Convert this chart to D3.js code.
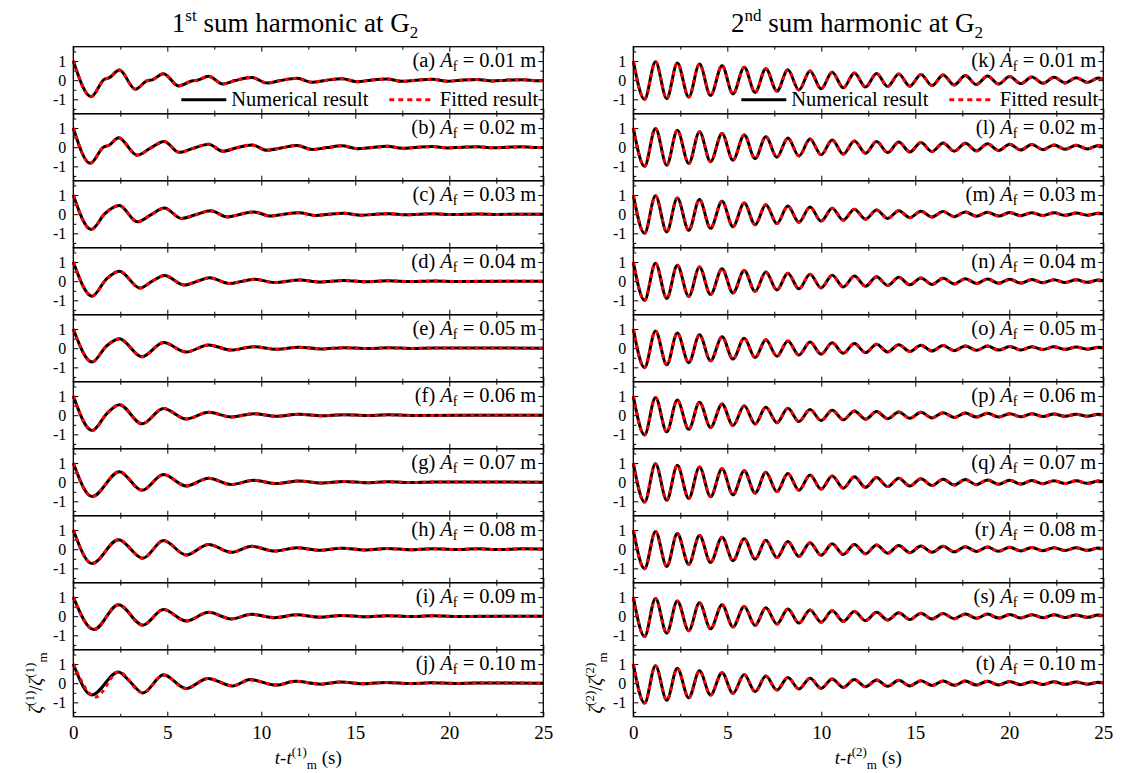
<!DOCTYPE html>
<html>
<head>
<meta charset="utf-8">
<script src="https://cdn.jsdelivr.net/npm/d3@7"></script>
<style>
body{margin:0;background:#fff}
svg text{font-family:"Liberation Serif","Times New Roman",serif;fill:#000}
</style>
</head>
<body>
<script>
// panel letters and forcing amplitudes
const lettersLeft = ['a','b','c','d','e','f','g','h','i','j']
const lettersRight = ['k','l','m','n','o','p','q','r','s','t']
const ampLabels = ['0.01','0.02','0.03','0.04','0.05','0.06','0.07','0.08','0.09','0.10']

const xMajor = [0,5,10,15,20,25]
const xMinor = [2.5,7.5,12.5,17.5,22.5]
const yMajor = [-1,0,1]
const yMinor = [-1.5,-0.5,0.5,1.5]

// 1st sum harmonic: key points [t, value]
const s1a = [[0,1.02],[0.95,-0.86],[1.65,0.05],[1.9,0.12],[2.45,0.53],[3.3,-0.47],[3.9,-0.04],[4.2,0.02],[4.8,0.34],[5.6,-0.3],[6.3,-0.04],[6.6,0],[7.2,0.2],[7.95,-0.2],[8.6,-0.02],[9.5,0.14],[10.3,-0.15],[11.0,-0.02],[11.9,0.1],[12.7,-0.11],[13.4,-0.01],[14.3,0.08],[15.1,-0.08],[15.8,0],[16.7,0.06],[17.5,-0.06],[18.2,0],[19.1,0.05],[19.9,-0.05],[20.6,0],[21.5,0.04],[22.3,-0.04],[23,0],[23.9,0.03],[24.7,-0.03],[25,-0.01]]
const s1b = [[0,1.0],[0.9,-0.84],[1.6,0.0],[1.9,0.1],[2.4,0.5],[3.4,-0.42],[4.1,-0.05],[4.83,0.3],[5.64,-0.27],[6.4,-0.05],[7.2,0.16],[7.96,-0.21],[8.7,-0.03],[9.5,0.12],[10.3,-0.16],[11.1,-0.03],[11.9,0.09],[12.7,-0.12],[13.5,-0.02],[14.3,0.07],[15.1,-0.08],[15.9,-0.01],[16.7,0.05],[17.5,-0.06],[18.3,0],[19.1,0.04],[19.9,-0.04],[20.7,0],[21.5,0.03],[22.3,-0.03],[23.1,0],[23.9,0.02],[24.7,-0.02],[25,-0.01]]
const s1c = [[0,1.0],[0.95,-0.8],[1.7,0.05],[2.45,0.45],[3.4,-0.4],[4.1,-0.05],[4.85,0.32],[5.75,-0.22],[6.5,-0.03],[7.3,0.18],[8.2,-0.14],[8.9,0],[9.6,0.12],[10.5,-0.1],[11.2,0],[12.0,0.08],[12.9,-0.07],[13.6,0],[14.4,0.05],[15.3,-0.05],[16.1,0],[16.8,0.03],[17.7,-0.03],[19.2,0.02],[20.1,-0.02],[21.6,0.01],[22.5,-0.01],[25,0]]
const s1d = [[0,1.0],[1.0,-0.78],[1.75,0.1],[2.45,0.52],[3.55,-0.36],[4.2,0.0],[4.85,0.3],[5.9,-0.2],[6.6,0.0],[7.25,0.18],[8.3,-0.12],[9.0,0.0],[9.65,0.1],[10.7,-0.07],[12.05,0.06],[13.1,-0.04],[14.4,0.04],[15.5,-0.03],[16.8,0.02],[17.9,-0.02],[19.2,0.01],[20.3,-0.01],[25,0]]
const s1e = [[0,1.0],[1.0,-0.72],[1.75,0.1],[2.45,0.5],[3.65,-0.45],[4.8,0.3],[6.0,-0.2],[7.2,0.17],[8.4,-0.1],[9.6,0.08],[10.8,-0.06],[12.0,0.05],[13.2,-0.04],[14.4,0.03],[15.6,-0.02],[16.8,0.02],[18,-0.01],[19.2,0.01],[25,0]]
const s1f = [[0,1.0],[1.0,-0.8],[1.8,0.1],[2.45,0.55],[3.65,-0.45],[4.8,0.35],[6.0,-0.2],[7.2,0.15],[8.4,-0.09],[9.6,0.08],[10.8,-0.05],[12.0,0.05],[13.2,-0.03],[14.4,0.03],[15.6,-0.02],[16.8,0.02],[18,-0.01],[25,0]]
const s1g = [[0,1.0],[1.0,-0.75],[2.45,0.55],[3.65,-0.42],[4.8,0.4],[6.0,-0.2],[7.2,0.2],[8.4,-0.12],[9.6,0.1],[10.8,-0.07],[12.0,0.06],[13.2,-0.04],[14.4,0.04],[15.6,-0.03],[16.8,0.02],[18,-0.02],[19.2,0.01],[25,0]]
const s1h = [[0,1.0],[1.0,-0.75],[2.4,0.5],[3.7,-0.47],[4.8,0.45],[6.0,-0.3],[7.2,0.25],[8.4,-0.16],[9.5,0.15],[10.7,-0.1],[11.9,0.08],[13.1,-0.06],[14.3,0.05],[15.5,-0.04],[16.7,0.04],[17.9,-0.03],[19.1,0.03],[20.3,-0.02],[21.5,0.02],[22.7,-0.02],[23.9,0.02],[25,0.01]]
const s1i = [[0,1.0],[1.1,-0.7],[2.4,0.6],[3.7,-0.47],[4.8,0.35],[6.0,-0.25],[7.2,0.2],[8.4,-0.14],[9.5,0.1],[10.7,-0.08],[11.9,0.07],[13.1,-0.05],[14.3,0.04],[15.5,-0.03],[16.7,0.03],[17.9,-0.02],[19.1,0.02],[20.3,-0.01],[25,0]]
const s1j = [[0,1.0],[0.98,-0.62],[2.4,0.59],[3.0,0.1],[3.7,-0.51],[4.8,0.44],[6.0,-0.28],[7.15,0.25],[8.47,-0.14],[9.4,0.19],[10.8,-0.1],[11.8,0.1],[13.2,-0.05],[14.2,0.06],[15.5,-0.03],[16.6,0.04],[18,-0.02],[19,0.02],[20.4,-0.01],[21.4,0.01],[25,0]]
const s1jFit = [[0,1.0],[1.2,-0.72],[2.4,0.59],[3.7,-0.5],[4.8,0.42],[6.0,-0.28],[7.15,0.25],[8.47,-0.14],[9.4,0.17],[10.8,-0.1],[11.8,0.1],[13.2,-0.05],[14.2,0.06],[15.5,-0.03],[16.6,0.04],[18,-0.02],[19,0.02],[20.4,-0.01],[21.4,0.01],[25,0]]

// 2nd sum harmonic: times of the extrema, then the value at each one per panel
const s2Times = [0,0.6,1.18,1.78,2.34,2.95,3.52,4.11,4.72,5.3,5.9,6.48,7.05,7.64,8.22,8.81,9.4,9.99,10.58,11.17,11.76,12.35,12.94,13.53,14.12,14.71,15.3,15.89,16.48,17.07,17.66,18.25,18.84,19.43,20.02,20.61,21.2,21.79,22.38,22.97,23.56,24.15,24.74,25]
const s2k = [1.00,-1.00,0.96,-0.96,0.90,-0.88,0.84,-0.80,0.76,-0.72,0.68,-0.64,0.60,-0.57,0.54,-0.51,0.48,-0.45,0.42,-0.40,0.38,-0.36,0.35,-0.33,0.32,-0.31,0.30,-0.28,0.27,-0.25,0.24,-0.23,0.22,-0.20,0.19,-0.18,0.17,-0.16,0.15,-0.14,0.13,-0.12,0.11,0.05]
const s2l = [1.00,-1.00,0.98,-0.94,0.89,-0.85,0.81,-0.76,0.72,-0.68,0.64,-0.60,0.55,-0.52,0.48,-0.46,0.43,-0.40,0.38,-0.36,0.33,-0.32,0.30,-0.28,0.27,-0.25,0.24,-0.23,0.22,-0.21,0.20,-0.19,0.18,-0.17,0.16,-0.15,0.14,-0.13,0.12,-0.11,0.10,-0.09,0.09,0.04]
const s2m = [1.00,-1.00,0.96,-0.93,0.84,-0.84,0.77,-0.74,0.68,-0.65,0.58,-0.55,0.50,-0.49,0.43,-0.42,0.37,-0.36,0.31,-0.31,0.26,-0.26,0.22,-0.22,0.18,-0.18,0.16,-0.15,0.14,-0.13,0.12,-0.11,0.10,-0.10,0.09,-0.08,0.08,-0.07,0.07,-0.06,0.06,-0.05,0.05,0.02]
const s2n = [1.00,-1.00,0.94,-0.90,0.83,-0.80,0.74,-0.70,0.65,-0.61,0.56,-0.53,0.48,-0.46,0.42,-0.40,0.36,-0.35,0.31,-0.30,0.27,-0.26,0.23,-0.22,0.20,-0.19,0.17,-0.17,0.15,-0.14,0.13,-0.12,0.12,-0.11,0.10,-0.10,0.09,-0.08,0.08,-0.07,0.07,-0.06,0.06,0.03]
const s2o = [1.00,-1.02,0.90,-0.87,0.79,-0.76,0.70,-0.66,0.60,-0.57,0.52,-0.49,0.44,-0.42,0.38,-0.36,0.32,-0.31,0.28,-0.26,0.24,-0.23,0.21,-0.20,0.18,-0.17,0.16,-0.15,0.14,-0.13,0.12,-0.11,0.11,-0.10,0.09,-0.09,0.08,-0.07,0.07,-0.06,0.06,-0.05,0.05,0.02]
const s2p = [1.00,-1.03,0.92,-0.87,0.79,-0.74,0.68,-0.64,0.58,-0.54,0.49,-0.46,0.42,-0.39,0.36,-0.33,0.30,-0.28,0.26,-0.24,0.22,-0.21,0.19,-0.18,0.17,-0.16,0.15,-0.14,0.13,-0.12,0.11,-0.10,0.10,-0.09,0.08,-0.08,0.07,-0.07,0.06,-0.06,0.05,-0.05,0.05,0.02]
const s2q = [1.00,-1.04,0.96,-0.94,0.88,-0.85,0.80,-0.76,0.70,-0.66,0.60,-0.57,0.52,-0.49,0.45,-0.42,0.38,-0.36,0.33,-0.31,0.28,-0.27,0.24,-0.23,0.21,-0.20,0.18,-0.17,0.16,-0.15,0.14,-0.13,0.12,-0.11,0.10,-0.10,0.09,-0.08,0.08,-0.07,0.07,-0.06,0.06,0.03]
const s2r = [1.00,-1.02,0.92,-0.90,0.82,-0.79,0.72,-0.69,0.63,-0.60,0.55,-0.52,0.47,-0.44,0.40,-0.38,0.34,-0.32,0.29,-0.28,0.25,-0.24,0.22,-0.21,0.19,-0.18,0.17,-0.16,0.15,-0.14,0.13,-0.12,0.11,-0.11,0.10,-0.09,0.09,-0.08,0.08,-0.07,0.07,-0.06,0.06,0.03]
const s2s = [1.00,-1.06,0.93,-0.89,0.80,-0.76,0.70,-0.66,0.60,-0.56,0.51,-0.48,0.44,-0.41,0.38,-0.36,0.33,-0.31,0.28,-0.27,0.24,-0.23,0.21,-0.20,0.18,-0.17,0.16,-0.15,0.14,-0.13,0.12,-0.11,0.11,-0.10,0.09,-0.09,0.08,-0.08,0.07,-0.07,0.06,-0.06,0.06,0.03]
const s2t = [1.00,-1.04,0.91,-0.89,0.78,-0.76,0.65,-0.62,0.55,-0.53,0.45,-0.44,0.37,-0.36,0.30,-0.30,0.26,-0.27,0.22,-0.22,0.19,-0.18,0.17,-0.16,0.15,-0.14,0.13,-0.12,0.12,-0.11,0.11,-0.10,0.10,-0.09,0.09,-0.08,0.08,-0.07,0.07,-0.06,0.06,-0.05,0.05,0.02]

const left = [s1a,s1b,s1c,s1d,s1e,s1f,s1g,s1h,s1i,s1j]
const leftFit = [s1a,s1b,s1c,s1d,s1e,s1f,s1g,s1h,s1i,s1jFit]
const right = [s2k,s2l,s2m,s2n,s2o,s2p,s2q,s2r,s2s,s2t].map(v => s2Times.map((t,k) => [t, v[k]]))

const width = 1123
const height = 773
const colX = [73.3, 633.3]
const plotW = 470
const top0 = 46.7
const panelH = 67
const font = '"Liberation Serif","Times New Roman",serif'

const svg = d3.select('body').append('svg')
  .attr('width', width)
  .attr('height', height)

const x = d3.scaleLinear().domain([0,25]).range([0,plotW])
const y = d3.scaleLinear().domain([-1.75,1.75]).range([panelH,0])

const line = d3.line()
  .x(d => x(d[0]))
  .y(d => y(d[1]))
  .curve(d3.curveMonotoneX)

function axisStyle(g, size) {
  g.select('.domain').remove()
  g.attr('font-family', font).attr('font-size', size || 19)
  g.selectAll('line').attr('stroke', '#000').attr('stroke-width', 1)
}

function drawPanel(col, i, num, fit, letter) {
  const g = svg.append('g')
    .attr('transform', 'translate(' + colX[col] + ',' + (top0 + i*panelH) + ')')

  const last = i == 9
  g.append('g').attr('transform', 'translate(0,' + panelH + ')')
    .call(d3.axisBottom(x).tickValues(xMajor).tickSize(-5).tickSizeOuter(0).tickPadding(9)
      .tickFormat(last ? d => d : ''))
    .call(axisStyle)
  g.append('g').attr('transform', 'translate(0,' + panelH + ')')
    .call(d3.axisBottom(x).tickValues(xMinor).tickSize(-3).tickSizeOuter(0).tickFormat(''))
    .call(axisStyle)
  g.append('g')
    .call(d3.axisTop(x).tickValues(xMajor).tickSize(-5).tickSizeOuter(0).tickFormat(''))
    .call(axisStyle)
  g.append('g')
    .call(d3.axisTop(x).tickValues(xMinor).tickSize(-3).tickSizeOuter(0).tickFormat(''))
    .call(axisStyle)
  g.append('g')
    .call(d3.axisLeft(y).tickValues(yMajor).tickSize(-5).tickSizeOuter(0).tickPadding(7)
      .tickFormat(d => String(d)))
    .call(axisStyle, 16)
  g.append('g')
    .call(d3.axisLeft(y).tickValues(yMinor).tickSize(-3).tickSizeOuter(0).tickFormat(''))
    .call(axisStyle)
  g.append('g').attr('transform', 'translate(' + plotW + ',0)')
    .call(d3.axisRight(y).tickValues(yMajor).tickSize(-5).tickSizeOuter(0).tickFormat(''))
    .call(axisStyle)
  g.append('g').attr('transform', 'translate(' + plotW + ',0)')
    .call(d3.axisRight(y).tickValues(yMinor).tickSize(-3).tickSizeOuter(0).tickFormat(''))
    .call(axisStyle)

  g.append('path').datum(num)
    .attr('d', line)
    .attr('fill', 'none')
    .attr('stroke', '#000')
    .attr('stroke-width', 3)
  g.append('path').datum(fit)
    .attr('d', line)
    .attr('fill', 'none')
    .attr('stroke', '#ff0000')
    .attr('stroke-width', 3)
    .attr('stroke-dasharray', '4,4')

  g.append('rect')
    .attr('width', plotW).attr('height', panelH)
    .attr('fill', 'none').attr('stroke', '#000').attr('stroke-width', 1.3)

  const lab = g.append('text')
    .attr('x', plotW - 7).attr('y', 20)
    .attr('text-anchor', 'end')
    .attr('font-size', 20.5)
  lab.append('tspan').text('(' + letter + ') ')
  lab.append('tspan').attr('font-style', 'italic').text('A')
  lab.append('tspan').attr('font-size', 14).attr('dy', 4).text('f')
  lab.append('tspan').attr('dy', -4).text(' = ' + ampLabels[i] + ' m')

  if (i == 0) {
    g.append('line').attr('x1', 108).attr('x2', 153).attr('y1', 53).attr('y2', 53)
      .attr('stroke', '#000').attr('stroke-width', 3)
    g.append('text').attr('x', 158).attr('y', 59).attr('font-size', 20.5).text('Numerical result')
    g.append('line').attr('x1', 316).attr('x2', 357).attr('y1', 53).attr('y2', 53)
      .attr('stroke', '#ff0000').attr('stroke-width', 3).attr('stroke-dasharray', '5,4')
    g.append('text').attr('x', plotW - 5).attr('y', 59).attr('text-anchor', 'end')
      .attr('font-size', 20.5).text('Fitted result')
  }
}

for (let i = 0; i < 10; i++) {
  drawPanel(0, i, left[i], leftFit[i], lettersLeft[i])
  drawPanel(1, i, right[i], right[i], lettersRight[i])
}

// titles
const titles = [['1','st',295],['2','nd',857]]
titles.forEach(t => {
  const tx = svg.append('text').attr('x', t[2]).attr('y', 32)
    .attr('text-anchor', 'middle').attr('font-size', 27)
  tx.append('tspan').text(t[0])
  tx.append('tspan').attr('font-size', 17).attr('dy', -11).text(t[1])
  tx.append('tspan').attr('dy', 11).text(' sum harmonic at G')
  tx.append('tspan').attr('font-size', 17).attr('dy', 6).text('2')
})

// axis titles
;[1,2].forEach((n, c) => {
  const xt = svg.append('text')
    .attr('x', colX[c] + plotW/2).attr('y', 764)
    .attr('text-anchor', 'middle').attr('font-size', 19)
  xt.append('tspan').attr('font-style', 'italic').text('t')
  xt.append('tspan').text('-')
  xt.append('tspan').attr('font-style', 'italic').text('t')
  xt.append('tspan').attr('font-size', 13).attr('dy', -8).text('(' + n + ')')
  xt.append('tspan').attr('font-size', 13).attr('dy', 13).text('m')
  xt.append('tspan').attr('dy', -5).text(' (s)')

  const yt = svg.append('text')
    .attr('transform', 'translate(' + (colX[c] - 31) + ',683) rotate(-90)')
    .attr('text-anchor', 'middle').attr('font-size', 19)
  yt.append('tspan').attr('font-style', 'italic').text('ζ')
  yt.append('tspan').attr('font-size', 13).attr('dy', -8).text('(' + n + ')')
  yt.append('tspan').attr('dy', 8).text('/')
  yt.append('tspan').attr('font-style', 'italic').text('ζ')
  yt.append('tspan').attr('font-size', 13).attr('dy', -8).text('(' + n + ')')
  yt.append('tspan').attr('font-size', 13).attr('dy', 13).text('m')
})
</script>
</body>
</html>
